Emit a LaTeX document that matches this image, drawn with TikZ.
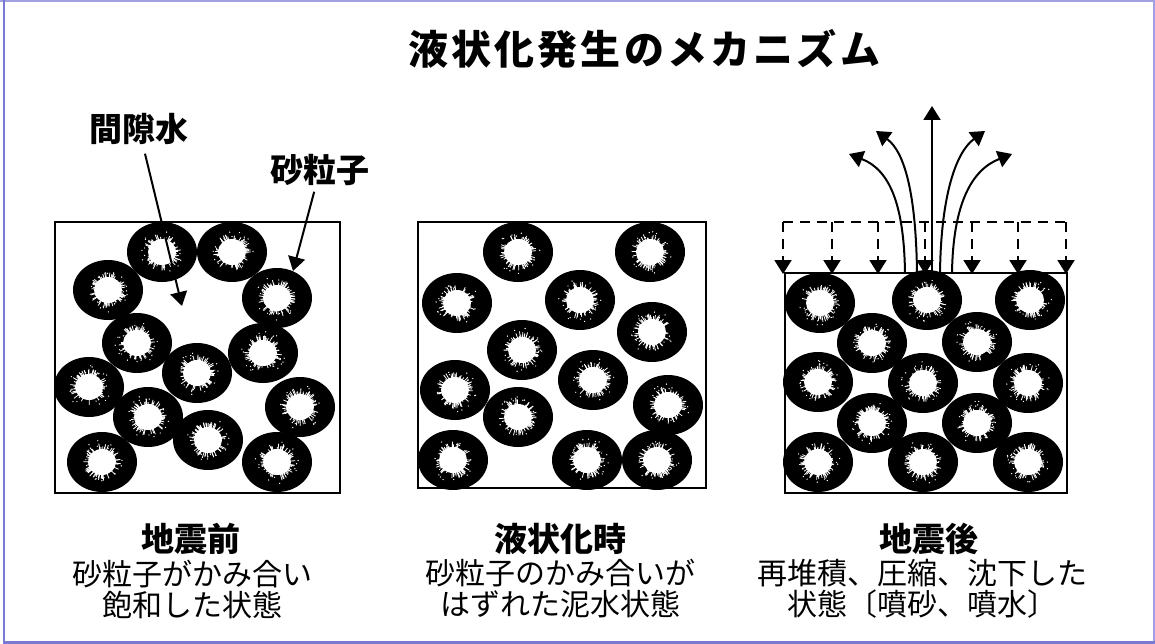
\documentclass[tikz,border=0pt]{standalone}
\usepackage{fontspec}
\usepackage{tikz}
\usetikzlibrary{arrows.meta}

\newfontfamily\jp{Noto Sans CJK JP}
\definecolor{framecol}{RGB}{122,122,212}
\definecolor{framelite}{RGB}{160,160,226}

\tikzset{
    % one sand grain: dark ring, frayed white core
    grain/.pic={
        \fill[black] (0,0) ellipse [x radius=35, y radius=30];
        \fill[white] (0,0) ellipse [x radius=14, y radius=13];
        \foreach \k in {1,...,60}{
            \pgfmathsetmacro{\ga}{rnd*360}
            \pgfmathsetmacro{\gr}{14+rnd*5}
            \draw[white, line width=0.8pt] (\ga:10) -- (\ga:\gr);
        }
        \foreach \k in {1,...,18}{
            \pgfmathsetmacro{\ga}{rnd*360}
            \pgfmathsetmacro{\gr}{15+rnd*7}
            \fill[white] (\ga:\gr) circle [radius=0.7];
        }
    },
    arr/.style={line width=2pt, -{Triangle[length=14pt,width=17pt]}},
    dashline/.style={line width=2pt, dash pattern=on 10pt off 7pt},
    lbl/.style={font=\jp\bfseries\fontsize{33}{36}\selectfont, inner sep=0pt},
    sub/.style={font=\jp\fontsize{30}{31}\selectfont, align=center, inner sep=0pt},
    box/.style={line width=2.2pt}
}

\begin{document}
\begin{tikzpicture}[x=1pt, y=-1pt]
    \pgfmathsetseed{42}
    \useasboundingbox (0,0) rectangle (1155,644);

    % outer frame
    \draw[framelite, line width=2pt] (0,1) -- (1154,1) -- (1154,644);
    \draw[framecol, line width=2.5pt] (4,0) -- (4,642.5) -- (1155,642.5);

    \node[font=\jp\bfseries\fontsize{40}{44}\selectfont\addfontfeature{LetterSpace=8}, inner sep=0pt] (title) at (644,49) {液状化発生のメカニズム};

    % before the quake
    \foreach \x/\y in {162/252, 232/252, 108/290, 277/298, 137/343, 263/353, 197/373,
                       89/387, 300/407, 148/417, 208/440, 102/462, 277/462}
        \pic at (\x,\y) {grain};
    \draw[box] (55,222) rectangle (340,493);

    \node[lbl] (gapw) at (139,129) {間隙水};
    \node[lbl] (sand) at (320,170) {砂粒子};
    \coordinate (pore) at (182,306);
    \coordinate (ring) at (293,271);
    \draw[arr, shorten <=9pt] (gapw) -- (pore);
    \draw[arr, shorten <=6pt] (sand) -- (ring);

    % liquefied
    \foreach \x/\y in {518/252, 650/252, 457/303, 580/300, 652/332, 522/350, 593/380,
                       455/390, 668/405, 518/417, 453/460, 587/460, 657/460}
        \pic at (\x,\y) {grain};
    \draw[box] (418,222) rectangle (706,488);

    % after the quake
    \foreach \x/\y in {820/303, 927/300, 1030/300, 872/343, 977/342, 818/382, 923/383,
                       1028/383, 872/423, 977/423, 818/462, 923/462, 1028/462}
        \pic at (\x,\y) {grain};
    \draw[box] (785,273) rectangle (1067,493);

    % settlement
    \draw[dashline] (783,222) -- (1066,222);
    \foreach \x in {783,832,878,925,972,1018,1066}
        \draw[arr, dash pattern=on 10pt off 7pt] (\x,222) -- (\x,274);

    % sand and water boils
    \coordinate (b1) at (905,273);
    \coordinate (b2) at (917,273);
    \coordinate (b3) at (932,273);
    \coordinate (b4) at (940,273);
    \coordinate (b5) at (952,273);
    \coordinate (t1) at (849,154);
    \coordinate (t2) at (876,131);
    \coordinate (t3) at (932,106);
    \coordinate (t4) at (985,131);
    \coordinate (t5) at (1012,154);
    \draw[arr] (b1) .. controls (904,205) and (890,170) .. (t1);
    \draw[arr] (b2) .. controls (916,195) and (905,152) .. (t2);
    \draw[arr] (b3) -- (t3);
    \draw[arr] (b4) .. controls (941,195) and (956,152) .. (t4);
    \draw[arr] (b5) .. controls (953,205) and (971,170) .. (t5);

    % captions
    \node[lbl] (before) at (191,539) {地震前};
    \node[sub] (beforetxt) at (192,589) {砂粒子がかみ合い\\飽和した状態};

    \node[lbl] (during) at (560,539) {液状化時};
    \node[sub] (duringtxt) at (560,589) {砂粒子のかみ合いが\\はずれた泥水状態};

    \node[lbl] (after) at (929,539) {地震後};
    \node[sub] (aftertxt) at (922,589) {再堆積、圧縮、沈下した\\状態〔噴砂、噴水〕};

\end{tikzpicture}
\end{document}
